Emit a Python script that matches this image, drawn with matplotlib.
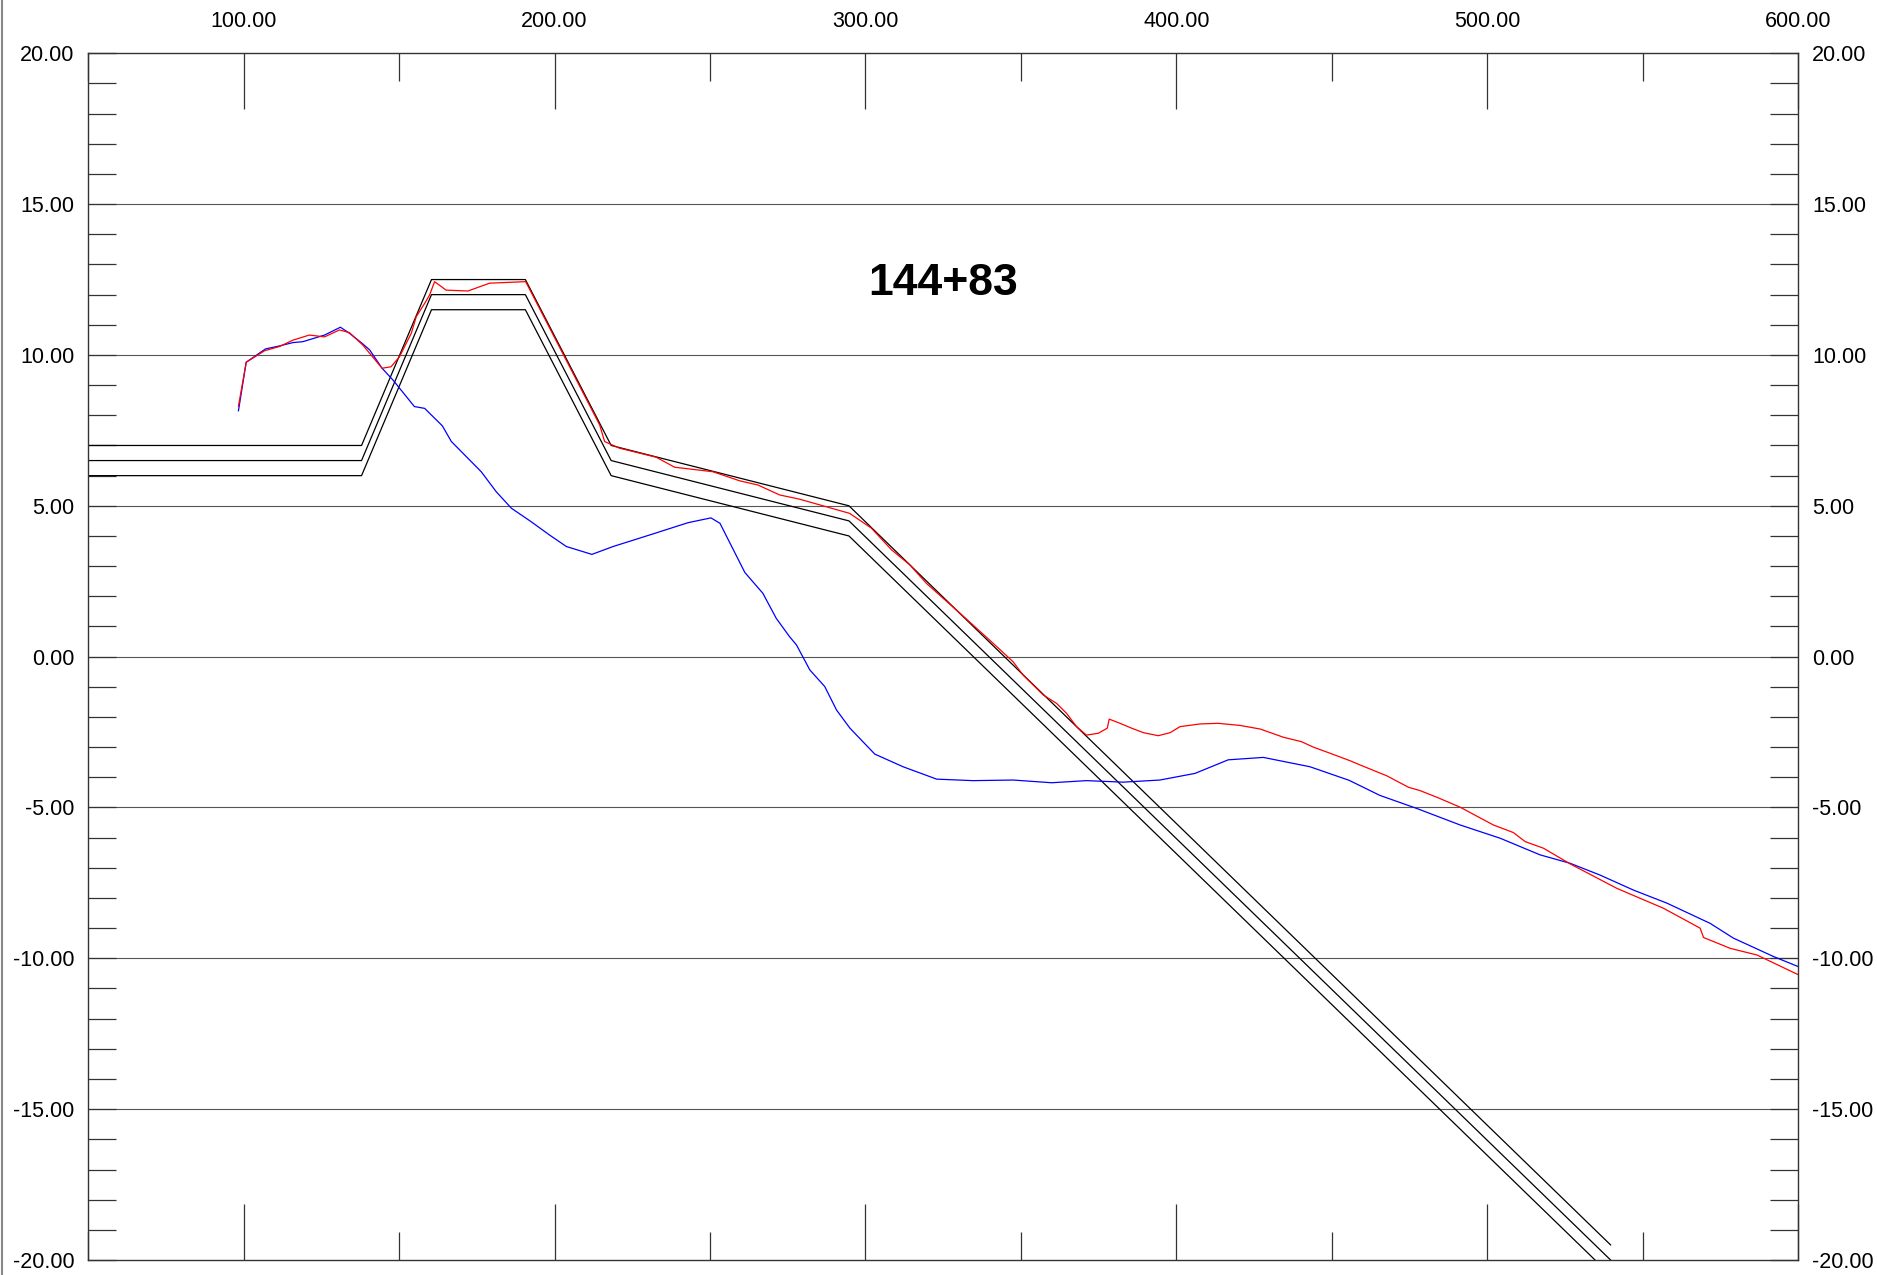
import matplotlib
matplotlib.use("Agg")
import matplotlib.pyplot as plt
from matplotlib.ticker import FixedLocator, MultipleLocator, FormatStrFormatter
from matplotlib.lines import Line2D

plt.rcParams['font.family'] = ['Liberation Sans', 'DejaVu Sans']

title = "144+83"

# template (design section) polylines
tpl_x = [50, 137.9, 160.4, 190.6, 218.2, 294.7, 539.7]
tpl_top = [7.0, 7.0, 12.5, 12.5, 7.0, 5.0, -19.5]
tpl_mid = [6.5, 6.5, 12.0, 12.0, 6.5, 4.5, -20.0]
tpl_bot = [6.0, 6.0, 11.5, 11.5, 6.0, 4.0, -20.5]

red_x = [98.3, 100.8, 106.7, 111.5, 115.8, 121.1, 126.0, 130.8, 134.0, 138.3, 144.5, 147.4,
         150.1, 153.9, 155.5, 158.2, 159.8, 161.4, 165.1, 172.1, 179.1, 190.7, 214.5, 216.1,
         220.9, 232.7, 238.6, 250.9, 259.5, 265.4, 272.4, 278.8, 294.9, 301.9, 308.4, 314.3,
         319.6, 330.4, 341.1, 347.5, 350.7, 357.2, 361.5, 364.7, 367.9, 371.1, 374.9, 377.8,
         378.4, 381.9, 385.6, 389.4, 394.2, 398.0, 401.2, 407.7, 413.5, 420.5, 427.0, 434.4,
         440.3, 444.1, 449.4, 455.9, 459.1, 467.7, 474.7, 478.4, 483.8, 491.3, 502.0, 508.4,
         512.2, 518.1, 526.7, 541.7, 556.7, 568.5, 569.6, 578.2, 586.8, 600.2]
red_y = [8.3, 9.76, 10.14, 10.28, 10.49, 10.66, 10.60, 10.83, 10.74, 10.33, 9.56, 9.61,
         9.94, 10.72, 11.27, 11.71, 11.99, 12.43, 12.15, 12.12, 12.38, 12.43, 7.68, 7.13,
         6.91, 6.61, 6.28, 6.13, 5.83, 5.69, 5.36, 5.22, 4.75, 4.26, 3.54, 3.04,
         2.43, 1.44, 0.44, -0.17, -0.61, -1.27, -1.55, -1.88, -2.32, -2.60, -2.54, -2.37,
         -2.07, -2.21, -2.37, -2.52, -2.62, -2.52, -2.32, -2.23, -2.21, -2.28, -2.40, -2.67,
         -2.82, -3.00, -3.20, -3.45, -3.59, -3.95, -4.33, -4.44, -4.66, -4.99, -5.58, -5.83,
         -6.13, -6.35, -6.87, -7.68, -8.34, -9.00, -9.31, -9.67, -9.89, -10.55]

blue_x = [98.3, 100.8, 107.0, 111.5, 115.8, 119.0, 126.0, 131.1, 134.0, 137.8, 140.5, 144.5,
          148.0, 154.9, 158.2, 163.9, 166.8, 176.4, 181.2, 186.1, 192.5, 198.4, 203.8, 212.0,
          218.8, 231.7, 242.9, 250.3, 253.2, 261.2, 267.0, 271.3, 275.6, 277.8, 282.1, 286.9,
          290.7, 295.0, 303.0, 312.1, 322.9, 334.6, 347.5, 359.9, 371.1, 382.9, 394.7, 406.0,
          416.7, 428.0, 443.0, 455.6, 465.5, 477.3, 491.3, 504.2, 517.0, 526.7, 536.3, 547.1,
          557.8, 571.7, 579.2, 592.1, 600.2]
blue_y = [8.15, 9.76, 10.20, 10.30, 10.41, 10.44, 10.66, 10.92, 10.72, 10.41, 10.17, 9.56,
          9.17, 8.29, 8.23, 7.65, 7.13, 6.13, 5.47, 4.92, 4.47, 4.03, 3.65, 3.39,
          3.65, 4.07, 4.44, 4.60, 4.42, 2.79, 2.10, 1.27, 0.66, 0.39, -0.44, -0.99,
          -1.77, -2.37, -3.23, -3.65, -4.06, -4.11, -4.09, -4.18, -4.11, -4.16, -4.09, -3.87,
          -3.42, -3.34, -3.65, -4.10, -4.60, -5.03, -5.58, -6.02, -6.57, -6.85, -7.24, -7.74,
          -8.17, -8.84, -9.33, -9.94, -10.28]

x_major = [100, 200, 300, 400, 500, 600]

fig = plt.figure(figsize=(18.77, 12.75), dpi=100)
ax = fig.add_axes([0.04704, 0.01176, 0.9109, 0.94644])
ax.set_xlim(50, 600)
ax.set_ylim(-20, 20)

for yv in range(-15, 20, 5):
    ax.axhline(yv, color='#555555', lw=0.8, zorder=1)

for ty in (tpl_top, tpl_mid, tpl_bot):
    ax.plot(tpl_x, ty, color='black', lw=0.9, zorder=2)

ax.plot(blue_x, blue_y, color='#0000ff', lw=0.9, zorder=3)
ax.plot(red_x, red_y, color='#ff0000', lw=0.9, zorder=4)

ax.text(0.5, 0.809, title, transform=ax.transAxes, ha='center', va='center',
        fontsize=32, fontweight='bold', color='black')

ax.xaxis.set_major_locator(FixedLocator(x_major))
ax.xaxis.set_minor_locator(MultipleLocator(50))
ax.xaxis.set_major_formatter(FormatStrFormatter('%.2f'))
ax.yaxis.set_major_locator(MultipleLocator(5))
ax.yaxis.set_minor_locator(MultipleLocator(1))
ax.yaxis.set_major_formatter(FormatStrFormatter('%.2f'))

ax.tick_params(axis='x', which='both', direction='in', top=True, bottom=True,
               labeltop=True, labelbottom=False, color='#333333', width=0.9)
ax.tick_params(axis='x', which='major', length=40, pad=15, labelsize=15.5)
ax.tick_params(axis='x', which='minor', length=20)
ax.tick_params(axis='y', which='both', direction='in', left=True, right=True,
               labelleft=True, labelright=True, length=20, color='#333333', width=0.9)
ax.tick_params(axis='y', which='major', pad=10, labelsize=15.5)

for s in ax.spines.values():
    s.set_color('#333333')
    s.set_linewidth(1.0)

fig.add_artist(Line2D([0.0013, 0.0013], [0, 1], transform=fig.transFigure,
                      color='#888888', lw=1.5))

fig.savefig('out.png', dpi=100)
